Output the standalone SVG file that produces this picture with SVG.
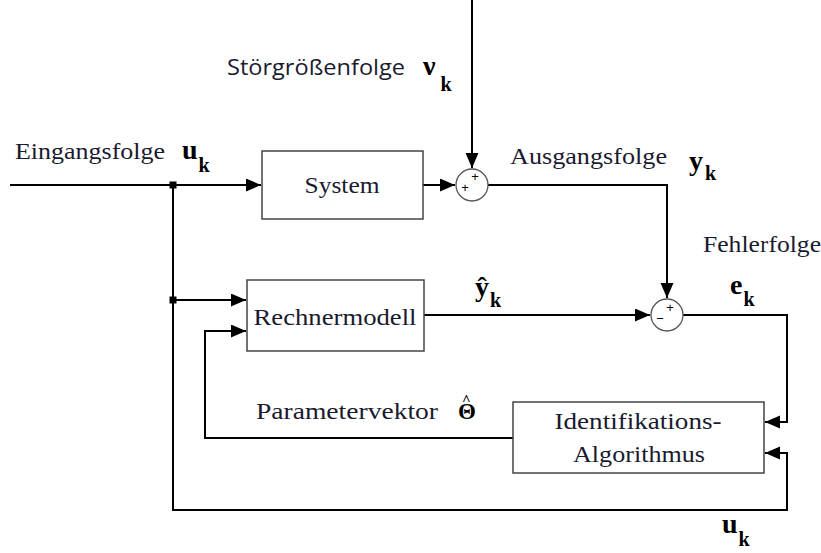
<svg xmlns="http://www.w3.org/2000/svg" width="821" height="553" viewBox="0 0 821 553">
<style>
.box{fill:#fff;stroke:#444;stroke-width:1.5}
.sum{fill:#fff;stroke:#555;stroke-width:1.3}
.ln{fill:none;stroke:#000;stroke-width:2}
.t{font-family:"Liberation Serif",serif;font-size:23px;fill:#1a1a2e}
.ts{font-family:"Open Sans","Liberation Sans",sans-serif;font-size:21px;fill:#1a1a2e}
.b{font-family:"Liberation Serif",serif;font-weight:bold;font-size:28px;fill:#000}
.k{font-size:20px}
.sg{font-family:"Liberation Sans",sans-serif;font-size:13px;fill:#000}
</style>
<defs>
<marker id="ah" markerUnits="userSpaceOnUse" markerWidth="16" markerHeight="14" refX="15" refY="6.5" orient="auto">
<path d="M0,0 L15,6.5 L0,13 z" fill="#000"/>
</marker>
</defs>
<rect width="821" height="553" fill="#fff"/>
<g id="connectors">
<path class="ln" d="M10,185 H261" marker-end="url(#ah)"/>
<path class="ln" d="M173,185 V510 H787 V453 H765" marker-end="url(#ah)"/>
<path class="ln" d="M173,300 H246" marker-end="url(#ah)"/>
<path class="ln" d="M423,185 H455" marker-end="url(#ah)"/>
<path class="ln" d="M472,0 V168" marker-end="url(#ah)"/>
<path class="ln" d="M488,185 H667 V298" marker-end="url(#ah)"/>
<path class="ln" d="M424,315 H650" marker-end="url(#ah)"/>
<path class="ln" d="M683,315 H787 V422 H765" marker-end="url(#ah)"/>
<path class="ln" d="M513,438 H205 V331 H246" marker-end="url(#ah)"/>
<rect x="169.5" y="181.5" width="7" height="7" fill="#000"/>
<rect x="169.5" y="296.5" width="7" height="7" fill="#000"/>
</g>
<g id="system">
<rect class="box" x="262" y="151" width="161" height="68"/>
<text class="t" x="342" y="193" text-anchor="middle" textLength="75" lengthAdjust="spacingAndGlyphs">System</text>
</g>
<g id="rechnermodell">
<rect class="box" x="247" y="280" width="177" height="71"/>
<text class="t" x="335" y="325" text-anchor="middle" textLength="163" lengthAdjust="spacingAndGlyphs">Rechnermodell</text>
</g>
<g id="identifikation">
<rect class="box" x="513" y="402" width="251" height="71"/>
<text class="t" x="638" y="429" text-anchor="middle" textLength="167" lengthAdjust="spacingAndGlyphs">Identifikations-</text>
<text class="t" x="639" y="462" text-anchor="middle" textLength="132" lengthAdjust="spacingAndGlyphs">Algorithmus</text>
</g>
<g id="sum1">
<circle class="sum" cx="472" cy="185" r="16"/>
<text class="sg" x="475" y="181" text-anchor="middle">+</text>
<text class="sg" x="465" y="192" text-anchor="middle">+</text>
</g>
<g id="sum2">
<circle class="sum" cx="667" cy="315" r="16"/>
<text class="sg" x="670" y="312" text-anchor="middle">+</text>
<text class="sg" x="660" y="323" text-anchor="middle">−</text>
</g>
<g id="labels">
<text class="t" x="15" y="159" textLength="150" lengthAdjust="spacingAndGlyphs">Eingangsfolge</text>
<text class="b" x="182" y="159">u<tspan class="k" dx="1" dy="13">k</tspan></text>
<text class="ts" x="227" y="75" textLength="178" lengthAdjust="spacingAndGlyphs">Störgrößenfolge</text>
<text class="b" x="423" y="75">ν<tspan class="k" dx="5" dy="16">k</tspan></text>
<text class="t" x="510" y="164" textLength="157" lengthAdjust="spacingAndGlyphs">Ausgangsfolge</text>
<text class="b" x="689" y="170">y<tspan class="k" dx="2" dy="10">k</tspan></text>
<text class="t" x="703" y="252" textLength="118" lengthAdjust="spacingAndGlyphs">Fehlerfolge</text>
<text class="b" x="730" y="294">e<tspan class="k" dx="1" dy="12">k</tspan></text>
<text class="b" x="475" y="296">ŷ<tspan class="k" dx="1" dy="11">k</tspan></text>
<text class="t" x="256" y="419" textLength="182" lengthAdjust="spacingAndGlyphs">Parametervektor</text>
<text class="b" x="458" y="419" style="font-size:23px">Θ<tspan style="font-size:15px" dx="-14" dy="-14">^</tspan></text>
<text class="b" x="722" y="533">u<tspan class="k" dx="1" dy="13">k</tspan></text>
</g>
</svg>
